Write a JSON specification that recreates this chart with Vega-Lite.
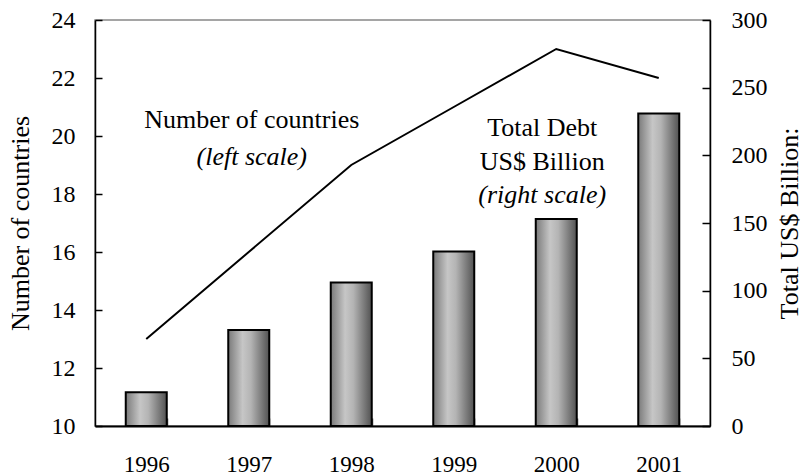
{
  "$schema": "https://vega.github.io/schema/vega-lite/v6.json",
  "width": 615,
  "height": 406,
  "autosize": "none",
  "padding": {"left": 95, "top": 20, "right": 95, "bottom": 50},
  "background": "white",
  "config": {
    "view": {"stroke": "#888888", "strokeWidth": 1.5},
    "font": "Liberation Serif",
    "axis": {
      "grid": false,
      "ticks": true,
      "zindex": 1,
      "domainColor": "black",
      "domainWidth": 1.5,
      "tickColor": "black",
      "tickWidth": 1.5,
      "labelFont": "Liberation Serif",
      "titleFont": "Liberation Serif",
      "labelColor": "black",
      "titleColor": "black",
      "titleFontWeight": "normal"
    }
  },
  "datasets": {
    "debt": [
      {"year": "1996", "countries": 13, "debt": 25},
      {"year": "1997", "countries": 16, "debt": 71},
      {"year": "1998", "countries": 19, "debt": 106},
      {"year": "1999", "countries": 21, "debt": 129},
      {"year": "2000", "countries": 23, "debt": 153},
      {"year": "2001", "countries": 22, "debt": 231}
    ],
    "leftNote": [
      {"year": "1997", "pos": 20.55, "label": "Number of countries", "kind": "name"},
      {"year": "1997", "pos": 19.28, "label": "(left scale)", "kind": "scale"}
    ],
    "rightNote": [
      {"year": "2000", "pos": 20.28, "label": "Total Debt", "kind": "name"},
      {"year": "2000", "pos": 19.1, "label": "US$ Billion", "kind": "name"},
      {"year": "2000", "pos": 17.97, "label": "(right scale)", "kind": "scale"}
    ]
  },
  "layer": [
    {
      "data": {"name": "debt"},
      "mark": {
        "type": "bar",
        "stroke": "black",
        "strokeWidth": 2,
        "color": {
          "gradient": "linear",
          "x1": 0, "x2": 1, "y1": 0, "y2": 0,
          "stops": [
            {"offset": 0, "color": "#7a7a7a"},
            {"offset": 0.35, "color": "#c6c6c6"},
            {"offset": 0.55, "color": "#b4b4b4"},
            {"offset": 1, "color": "#525252"}
          ]
        }
      },
      "encoding": {
        "x": {
          "field": "year", "type": "ordinal",
          "scale": {"paddingInner": 0.6, "paddingOuter": 0.3},
          "axis": {
            "title": null,
            "labelAngle": 0,
            "labelFontSize": 23,
            "labelPadding": 35,
            "tickBand": "extent",
            "tickSize": -8,
            "tickColor": "#555555",
            "domainWidth": 2
          }
        },
        "y": {
          "field": "debt", "type": "quantitative",
          "scale": {"domain": [0, 300], "nice": false},
          "axis": {
            "orient": "right",
            "title": "Total US$ Billion:",
            "titleAngle": 270,
            "titleFontSize": 26,
            "titlePadding": 35,
            "values": [0, 50, 100, 150, 200, 250, 300],
            "labelFontSize": 24,
            "labelPadding": 29,
            "tickSize": -8
          }
        }
      }
    },
    {
      "layer": [
        {
          "data": {"name": "debt"},
          "mark": {"type": "line", "color": "black", "strokeWidth": 2},
          "encoding": {
            "x": {"field": "year", "type": "ordinal"},
            "y": {
              "field": "countries", "type": "quantitative",
              "scale": {"domain": [10, 24], "nice": false},
              "axis": {
                "orient": "left",
                "title": "Number of countries",
                "titleFontSize": 26,
                "titlePadding": 18,
                "values": [10, 12, 14, 16, 18, 20, 22, 24],
                "labelFontSize": 24,
                "labelPadding": 27,
                "tickSize": -7
              }
            }
          }
        },
        {
          "data": {"name": "leftNote"},
          "transform": [{"filter": "datum.kind == 'name'"}],
          "mark": {"type": "text", "fontSize": 26, "dx": 3, "baseline": "middle"},
          "encoding": {
            "x": {"field": "year", "type": "ordinal"},
            "y": {"field": "pos", "type": "quantitative"},
            "text": {"field": "label"}
          }
        },
        {
          "data": {"name": "leftNote"},
          "transform": [{"filter": "datum.kind == 'scale'"}],
          "mark": {"type": "text", "fontSize": 26, "fontStyle": "italic", "dx": 3, "baseline": "middle"},
          "encoding": {
            "x": {"field": "year", "type": "ordinal"},
            "y": {"field": "pos", "type": "quantitative"},
            "text": {"field": "label"}
          }
        },
        {
          "data": {"name": "rightNote"},
          "transform": [{"filter": "datum.kind == 'name'"}],
          "mark": {"type": "text", "fontSize": 26, "dx": -14, "baseline": "middle"},
          "encoding": {
            "x": {"field": "year", "type": "ordinal"},
            "y": {"field": "pos", "type": "quantitative"},
            "text": {"field": "label"}
          }
        },
        {
          "data": {"name": "rightNote"},
          "transform": [{"filter": "datum.kind == 'scale'"}],
          "mark": {"type": "text", "fontSize": 26, "fontStyle": "italic", "dx": -14, "baseline": "middle"},
          "encoding": {
            "x": {"field": "year", "type": "ordinal"},
            "y": {"field": "pos", "type": "quantitative"},
            "text": {"field": "label"}
          }
        }
      ]
    }
  ],
  "resolve": {"scale": {"y": "independent"}}
}
